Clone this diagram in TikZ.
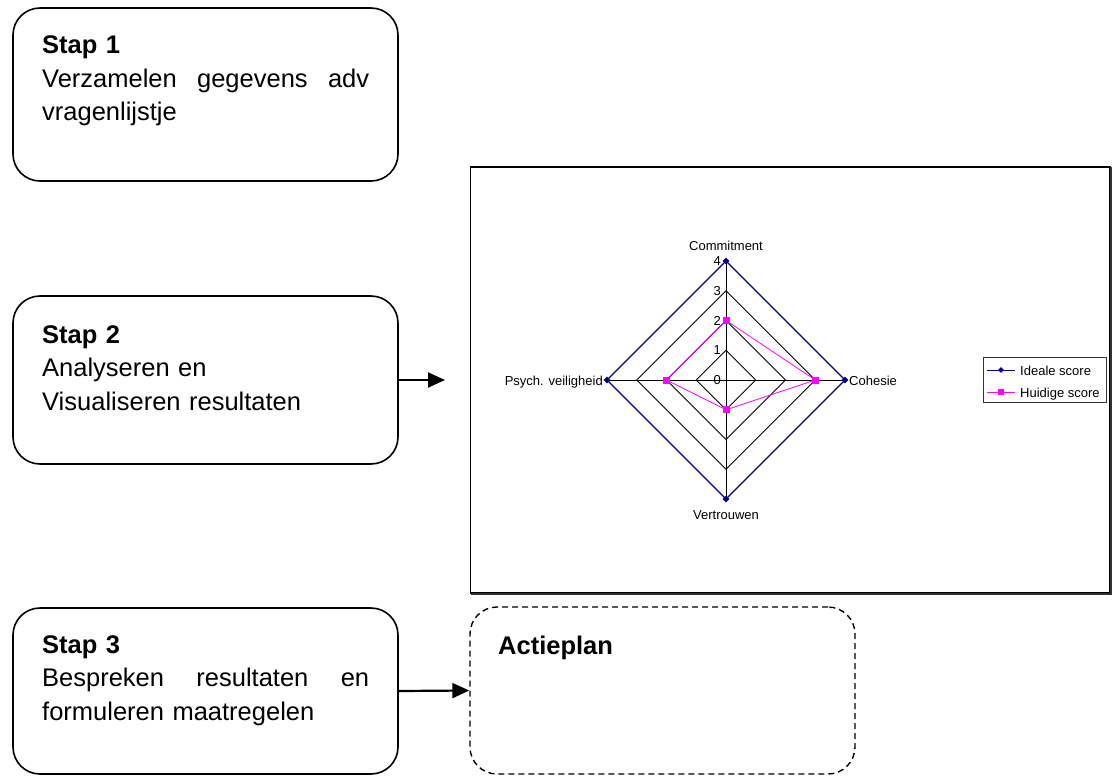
\documentclass[tikz,border=0pt]{standalone}
\usepackage{fontspec}
\setmainfont{Liberation Sans}
\usetikzlibrary{arrows.meta,shapes.geometric}
\definecolor{idealblue}{RGB}{0,0,128}
\definecolor{currentpink}{RGB}{255,0,255}
\newcommand{\boxfont}{\fontsize{25.5}{33.5}\selectfont}
\newcommand{\chartfont}{\fontsize{13}{15}\selectfont}
\begin{document}
\begin{tikzpicture}[x=1pt,y=-1pt,
  stepbox/.style={draw, line width=1.6pt, rounded corners=27pt,
    minimum width=385pt, inner sep=0pt},
  planbox/.style={stepbox, line width=1.4pt, dash pattern=on 6pt off 4pt},
  steptext/.style={anchor=base west, text width=327pt, align=left,
    inner sep=0pt, font=\boxfont},
  conn/.style={line width=2.2pt, -{Triangle[length=17pt,width=15pt]}},
  gridline/.style={line width=0.8pt, black},
  idealline/.style={line width=1.2pt, idealblue},
  currentline/.style={line width=0.8pt, currentpink},
  idealmark/.style={diamond, fill=idealblue, inner sep=0pt, minimum size=7pt},
  currentmark/.style={rectangle, fill=currentpink, inner sep=0pt, minimum size=7pt},
  chartlabel/.style={inner sep=0pt, font=\chartfont},
]
\useasboundingbox (0,0) rectangle (1117,776);

% step boxes
\node[stepbox, minimum height=173pt] (s1) at (205.5,94.5) {};
\node[stepbox, minimum height=168pt] (s2) at (205.5,380) {};
\node[stepbox, minimum height=166pt] (s3) at (205.5,691) {};
\node[planbox, minimum height=167pt] (plan) at (662.5,690.5) {};

\node[steptext] (t1) at (42,54) {\textbf{Stap 1}\\
  \makebox[327pt][s]{Verzamelen\hfill gegevens\hfill adv}\\
  vragenlijstje};
\node[steptext] (t2) at (42,343) {\textbf{Stap 2}\\
  Analyseren en\\
  Visualiseren resultaten};
\node[steptext] (t3) at (42,653) {\textbf{Stap 3}\\
  \makebox[327pt][s]{Bespreken\hfill resultaten\hfill en}\\
  formuleren maatregelen};
\node[anchor=base west, inner sep=0pt, font=\boxfont\bfseries] (tp) at (498,654) {Actieplan};

% chart frame, with a darker right and bottom edge
\node[draw, line width=1.4pt, minimum width=639.5pt, minimum height=426pt,
  inner sep=0pt] (chart) at (790.25,380) {};
\draw[line width=2pt, black!80, line join=miter]
  ([yshift=-0.7pt]chart.north east) -- (chart.south east) -- ([xshift=0.7pt]chart.south west);
\coordinate (chartin) at (445,380);

% connectors
\draw[conn] (s2.east) -- (chartin);
\draw[conn] (s3.east) -- (plan.west);

% radar chart
\begin{scope}[shift={(726,380)}, x=29.75pt, y=29.75pt]
  \foreach \r in {1,2,3}
    \draw[gridline] (0,\r) -- (\r,0) -- (0,-\r) -- (-\r,0) -- cycle;
  \draw[gridline] (0,4) -- (0,-4);
  \draw[gridline] (-4,0) -- (4,0);
  \foreach \r in {0,...,4}
    \node[chartlabel, anchor=east] at ([xshift=-5pt]0,\r) {\r};
  \draw[idealline] (0,4) -- (4,0) -- (0,-4) -- (-4,0) -- cycle;
  \foreach \p in {(0,4),(4,0),(0,-4),(-4,0)}
    \node[idealmark] at \p {};
  \draw[currentline] (0,2) -- (3,0) -- (0,-1) -- (-2,0) -- cycle;
  \foreach \p in {(0,2),(3,0),(0,-1),(-2,0)}
    \node[currentmark] at \p {};
  \node[chartlabel, anchor=base] (lc) at ([yshift=11pt]0,4) {Commitment};
  \node[chartlabel, anchor=base] (lv) at ([yshift=-20pt]0,-4) {Vertrouwen};
  \node[chartlabel, anchor=base west] (lh) at ([xshift=4pt,yshift=-5pt]4,0) {Cohesie};
  \node[chartlabel, anchor=base east] (lp) at ([xshift=-4pt,yshift=-5pt]-4,0) {Psych. veiligheid};
\end{scope}

% legend
\node[draw, line width=0.8pt, draw=black!80, minimum width=123pt,
  minimum height=45pt, inner sep=0pt] (leg) at (1044.5,379.5) {};
\draw[idealline, line width=0.9pt] (987,370) -- (1015,370);
\node[idealmark, minimum size=6pt] at (1001,370) {};
\node[chartlabel, anchor=base west] (li) at (1020,375) {Ideale score};
\draw[currentline] (987,392) -- (1015,392);
\node[currentmark, minimum size=6pt] at (1001,392) {};
\node[chartlabel, anchor=base west] (lu) at (1020,397) {Huidige score};
\end{tikzpicture}
\end{document}
